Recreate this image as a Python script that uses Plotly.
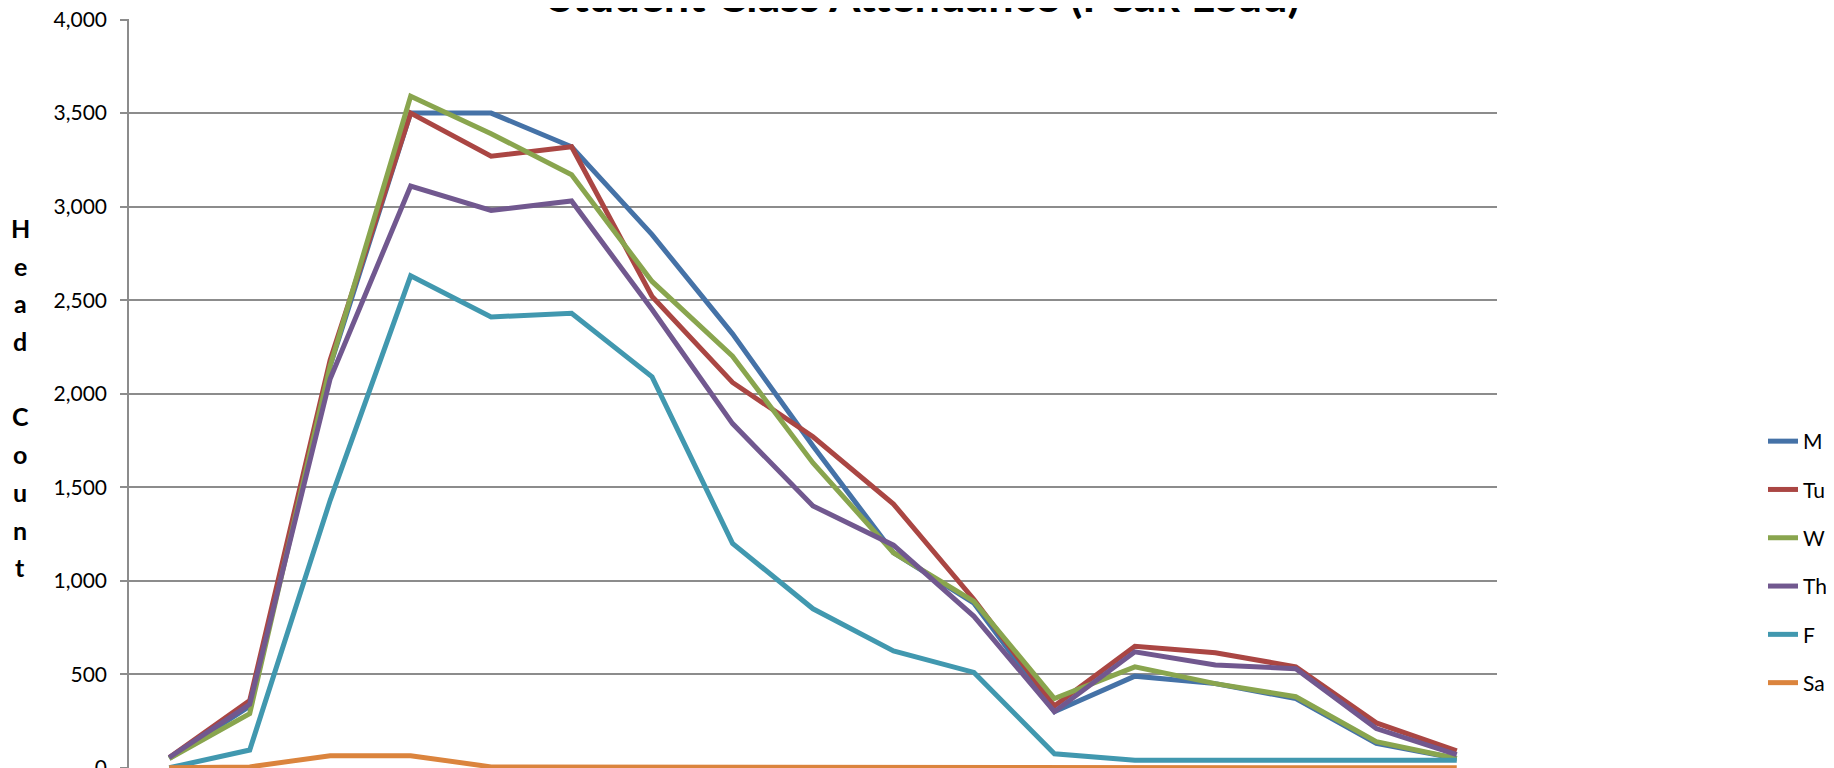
import plotly.graph_objects as go

# hourly time slots (labels are cropped out of the original picture)
time_slots = ["6 AM", "7 AM", "8 AM", "9 AM", "10 AM", "11 AM", "12 PM", "1 PM", "2 PM",
              "3 PM", "4 PM", "5 PM", "6 PM", "7 PM", "8 PM", "9 PM", "10 PM"]

mon = [50, 330, 2150, 3500, 3500, 3320, 2850, 2320, 1720, 1150, 880, 300, 490, 450, 370, 130, 50]
tue = [55, 360, 2180, 3500, 3270, 3320, 2520, 2060, 1770, 1410, 900, 330, 650, 615, 540, 240, 90]
wed = [50, 290, 2150, 3590, 3390, 3170, 2600, 2200, 1630, 1150, 890, 370, 540, 450, 380, 140, 50]
thu = [55, 340, 2080, 3110, 2980, 3030, 2450, 1840, 1400, 1190, 810, 300, 620, 550, 530, 210, 70]
fri = [0, 95, 1430, 2630, 2410, 2430, 2090, 1200, 850, 625, 510, 75, 40, 40, 40, 40, 40]
sat = [0, 5, 65, 65, 5, 5, 0, 0, 0, 0, 0, 0, 0, 0, 0, 0, 0]

series = [
    ("M", mon, "#4572A7"),
    ("Tu", tue, "#AA4643"),
    ("W", wed, "#89A54E"),
    ("Th", thu, "#71588F"),
    ("F", fri, "#4198AF"),
    ("Sa", sat, "#DB843D"),
]

W, H = 1834, 768
# the page body adds 8px, so margins are set 8px smaller on the left/top
ML, MR, MT, MB = 121, 345, 11, 8
PW, PH = W - ML - MR, H - MT - MB

fig = go.Figure()
for name, vals, color in series:
    fig.add_trace(go.Scatter(
        x=list(range(len(time_slots))),
        y=vals,
        mode="lines",
        name=name,
        legendgroup=name,
        line=dict(color=color, width=5),
    ))

fig.update_layout(
    template="none",
    width=W,
    height=H,
    margin=dict(l=ML, r=MR, t=MT, b=MB),
    paper_bgcolor="white",
    plot_bgcolor="white",
    font=dict(family="Lato", size=21, color="black"),
    title=dict(
        text="<b>Student Class Attendance (Peak Load)</b>",
        font=dict(family="Lato", size=45, color="black"),
        x=0.4995,
        xanchor="center",
        y=1 - 4 / H,
        yanchor="bottom",
    ),
    showlegend=True,
    legend=dict(
        x=(1755 - ML) / PW,
        xanchor="left",
        y=(H - MB - 413) / PH,
        yanchor="top",
        font=dict(family="Lato", size=21, color="black"),
        tracegroupgap=18,
        bgcolor="rgba(0,0,0,0)",
    ),
    xaxis=dict(
        range=[-0.5, len(time_slots) - 0.5],
        showticklabels=False,
        showgrid=False,
        zeroline=False,
        ticks="",
        automargin=False,
        fixedrange=True,
    ),
    yaxis=dict(
        range=[-1, 4003],
        tick0=0,
        dtick=500,
        tickformat=",d",
        showgrid=True,
        gridcolor="#8C8C8C",
        gridwidth=1.5,
        showline=True,
        linecolor="#8C8C8C",
        linewidth=1.5,
        ticks="outside",
        ticklen=7,
        tickcolor="#8C8C8C",
        tickwidth=1.5,
        ticklabelstandoff=9,
        ticklabeloverflow="allow",
        zeroline=False,
        automargin=False,
        tickfont=dict(family="Lato", size=21, color="black"),
    ),
)

# stacked vertical axis title, one letter per line
axis_letters = ["H", "e", "a", "d", "", "C", "o", "u", "n", "t"]
for i, ch in enumerate(axis_letters):
    if not ch:
        continue
    ypix = 220 + i * 37.7
    fig.add_annotation(
        text=f"<b>{ch}</b>",
        xref="paper", yref="paper",
        x=0, xshift=-(ML - 12),
        y=(H - MB - ypix) / PH,
        xanchor="center", yanchor="middle",
        showarrow=False,
        font=dict(family="Lato", size=25, color="black"),
    )

fig.write_html("out.html")
